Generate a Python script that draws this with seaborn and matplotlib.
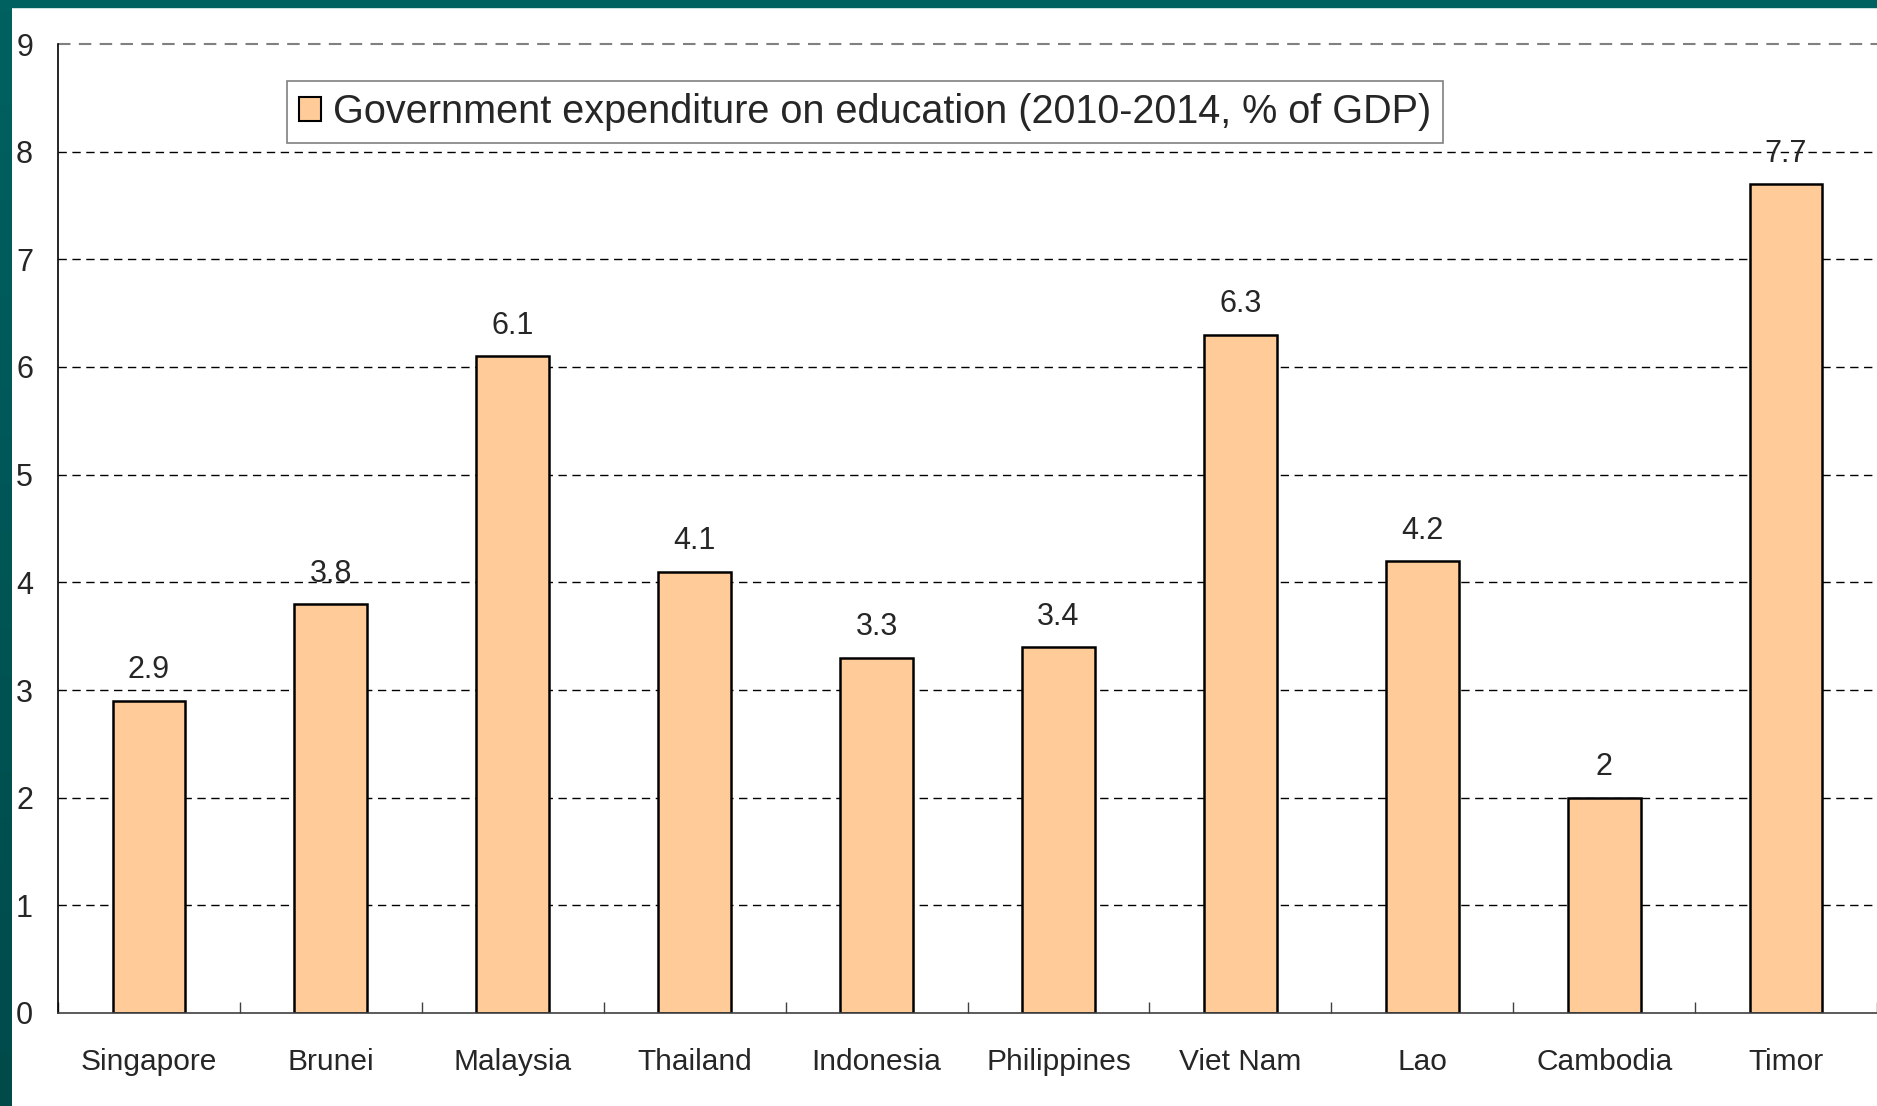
import numpy as np
import pandas as pd
import seaborn as sns
import matplotlib.pyplot as plt
from matplotlib.patches import Patch, Rectangle
from matplotlib.ticker import FixedLocator
from matplotlib.colors import LinearSegmentedColormap

countries = ["Singapore", "Brunei", "Malaysia", "Thailand", "Indonesia",
             "Philippines", "Viet Nam", "Lao", "Cambodia", "Timor"]
spending = [2.9, 3.8, 6.1, 4.1, 3.3, 3.4, 6.3, 4.2, 2, 7.7]
labels = ["2.9", "3.8", "6.1", "4.1", "3.3", "3.4", "6.3", "4.2", "2", "7.7"]
legend_text = "Government expenditure on education (2010-2014, % of GDP)"

df = pd.DataFrame({"country": countries, "value": spending})

sns.set_theme(style="white")
plt.rcParams["font.family"] = ["Liberation Sans", "DejaVu Sans"]

fig = plt.figure(figsize=(18.77, 11.06), dpi=100)
ax = fig.add_axes([58 / 1877, 1 - 1013 / 1106, 1 - 58 / 1877, (1013 - 44) / 1106])

bar_col = "#FFCC99"
sns.barplot(data=df, x="country", y="value", color=bar_col, width=0.4,
            edgecolor="black", linewidth=1.8, saturation=1, ax=ax)

ax.set_ylim(0, 9)
ax.set_xlim(-0.5, 9.5)
ax.set_yticks(range(0, 10))
ax.set_xlabel("")
ax.set_ylabel("")

# dashed gridlines
for v in range(1, 9):
    ax.axhline(v, color="black", lw=1, ls=(0, (6, 4)), zorder=0)
ax.axhline(9, color="#808080", lw=1.5, ls=(0, (6, 4)), zorder=0, clip_on=False)

ax.bar_label(ax.containers[0], labels=labels, padding=11, fontsize=22)

ax.tick_params(axis="y", labelsize=22, length=0, pad=18)
ax.tick_params(axis="x", labelsize=21.5, length=0, pad=25)
ax.xaxis.set_minor_locator(FixedLocator(np.arange(-0.5, 10, 1)))
ax.tick_params(axis="x", which="minor", direction="in", length=8, width=1,
               color="#404040", bottom=True)

for s in ["top", "right"]:
    ax.spines[s].set_visible(False)
ax.spines["left"].set_color("black")
ax.spines["left"].set_linewidth(1.2)
ax.spines["bottom"].set_color("#404040")
ax.spines["bottom"].set_linewidth(1.2)

handle = Patch(facecolor=bar_col, edgecolor="black", linewidth=1.5)
leg = ax.legend(handles=[handle], labels=[legend_text], loc="upper left",
                bbox_to_anchor=(0.126, 0.962), borderaxespad=0, fontsize=28.5,
                frameon=True, fancybox=False, handlelength=0.55, handleheight=0.55,
                handletextpad=0.3, borderpad=0.3)
leg.get_frame().set_edgecolor("#606060")
leg.get_frame().set_linewidth(1.2)

# teal frame strips
fig.patches.append(Rectangle((0, 1 - 7 / 1106), 1, 7 / 1106, transform=fig.transFigure,
                             color="#006161", zorder=10))
gax = fig.add_axes([0, 0, 12 / 1877, 1 - 7 / 1106])
grad = np.linspace(0, 1, 256).reshape(-1, 1)
cmap = LinearSegmentedColormap.from_list("teal", ["#006161", "#004a4a"])
gax.imshow(grad, aspect="auto", cmap=cmap)
gax.axis("off")

fig.savefig("out.png", dpi=100)
